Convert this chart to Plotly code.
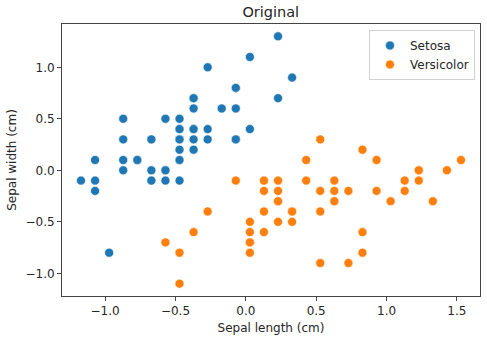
import plotly.graph_objects as go

# Iris sepal measurements (cm), centred on the mean of both species
setosa_x = [-0.371, -0.571, -0.771, -0.871, -0.471, -0.071, -0.871, -0.471, -1.071, -0.571,
            -0.071, -0.671, -0.671, -1.171, 0.329, 0.229, -0.071, -0.371, 0.229, -0.371,
            -0.071, -0.371, -0.871, -0.371, -0.671, -0.471, -0.471, -0.271, -0.271, -0.771,
            -0.671, -0.071, -0.271, 0.029, -0.571, -0.471, 0.029, -0.571, -1.071, -0.371,
            -0.471, -0.971, -1.071, -0.471, -0.371, -0.671, -0.371, -0.871, -0.171, -0.471]
setosa_y = [0.401, -0.099, 0.101, 0.001, 0.501, 0.801, 0.301, 0.301, -0.199, 0.001,
            0.601, 0.301, -0.099, -0.099, 0.901, 1.301, 0.801, 0.401, 0.701, 0.701,
            0.301, 0.601, 0.501, 0.201, 0.301, -0.099, 0.301, 0.401, 0.301, 0.101,
            0.001, 0.301, 1.001, 1.101, 0.001, 0.101, 0.401, 0.501, -0.099, 0.301,
            0.401, -0.799, 0.101, 0.401, 0.701, -0.099, 0.701, 0.101, 0.601, 0.201]
versicolor_x = [1.529, 0.929, 1.429, 0.029, 1.029, 0.229, 0.829, -0.571, 1.129, -0.271,
                -0.471, 0.429, 0.529, 0.629, 0.129, 1.229, 0.129, 0.329, 0.729, 0.129,
                0.429, 0.629, 0.829, 0.629, 0.929, 1.129, 1.329, 1.229, 0.529, 0.229,
                0.029, 0.029, 0.329, 0.529, -0.071, 0.529, 1.229, 0.829, 0.129, 0.029,
                0.029, 0.629, 0.329, -0.471, 0.129, 0.229, 0.229, 0.729, -0.371, 0.229]
versicolor_y = [0.101, 0.101, 0.001, -0.799, -0.299, -0.299, 0.201, -0.699, -0.199, -0.399,
                -1.099, -0.099, -0.899, -0.199, -0.199, 0.001, -0.099, -0.399, -0.899, -0.599,
                0.101, -0.299, -0.599, -0.299, -0.199, -0.099, -0.299, -0.099, -0.199, -0.499,
                -0.699, -0.699, -0.399, -0.399, -0.099, 0.301, 0.001, -0.799, -0.099, -0.599,
                -0.499, -0.099, -0.499, -0.799, -0.399, -0.099, -0.199, -0.199, -0.599, -0.299]

series = [("Setosa", setosa_x, setosa_y, "#1f77b4"),
          ("Versicolor", versicolor_x, versicolor_y, "#ff7f0e")]

font = "DejaVu Sans, Arial, sans-serif"
text_color = "#262626"

fig = go.Figure()
for name, xs, ys, color in series:
    fig.add_trace(go.Scatter(
        x=xs, y=ys, mode="markers", name=name,
        marker=dict(color=color, size=9, line=dict(color="white", width=0.6)),
    ))

axis_common = dict(
    showgrid=False, zeroline=False,
    showline=True, linecolor="#444", linewidth=1, mirror=True,
    ticks="outside", ticklen=4, tickwidth=1, tickcolor="#444",
    tickfont=dict(family=font, size=12, color=text_color),
    tickformat=".1f", tick0=0, dtick=0.5,
)

fig.update_layout(
    width=487, height=341,
    margin=dict(l=62, r=7, t=24, b=45),
    paper_bgcolor="white", plot_bgcolor="white",
    font=dict(family=font, size=12, color=text_color),
    title=dict(text="Original", x=0.556, xanchor="center", y=0.965, yanchor="middle",
               font=dict(family=font, size=14.5, color=text_color)),
    xaxis=dict(axis_common, range=[-1.306, 1.664],
               title=dict(text="Sepal length (cm)", standoff=6,
                          font=dict(family=font, size=12, color=text_color))),
    yaxis=dict(axis_common, range=[-1.219, 1.421],
               title=dict(text="Sepal width (cm)", standoff=6,
                          font=dict(family=font, size=12, color=text_color))),
    legend=dict(x=0.988, y=0.978, xanchor="right", yanchor="top",
                bgcolor="rgba(255,255,255,0.8)", bordercolor="#d0d0d0", borderwidth=1,
                font=dict(family=font, size=12, color=text_color)),
    showlegend=True,
)

fig.write_html("out.html")
